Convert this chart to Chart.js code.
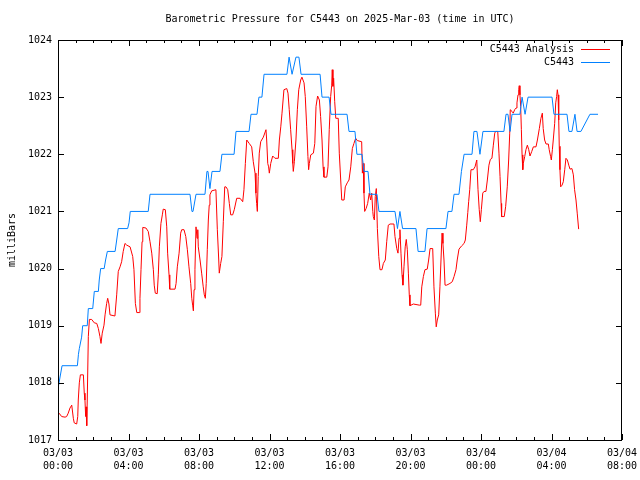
<!DOCTYPE html>
<html>
<head>
<meta charset="utf-8">
<script src="https://cdn.jsdelivr.net/npm/chart.js@4.4.1/dist/chart.umd.min.js"></script>
<style>
    html, body { margin: 0; padding: 0; background: #fff; }
    #wrap { width: 640px; height: 480px; }
</style>
</head>
<body>
<div id="wrap"><canvas id="pressureChart" width="640" height="480"></canvas></div>
<script>
// Hours since 03/03 00:00 UTC and pressure in mb
const analysisHours = [
    0.06, 0.21, 0.40, 0.49, 0.58, 0.68, 0.78, 0.87, 0.92, 1.06, 1.12, 1.15, 1.21, 1.27, 1.44, 1.49,
    1.53, 1.57, 1.59, 1.63, 1.66, 1.72, 1.78, 1.91, 2.06, 2.20, 2.29, 2.38, 2.44, 2.51, 2.61, 2.67,
    2.76, 2.82, 2.89, 2.95, 3.23, 3.33, 3.42, 3.52, 3.61, 3.70, 3.80, 3.90, 4.09, 4.24, 4.31, 4.39,
    4.47, 4.61, 4.65, 4.71, 4.77, 4.81, 4.99, 5.12, 5.22, 5.32, 5.41, 5.46, 5.52, 5.63, 5.69, 5.75,
    5.84, 5.92, 5.97, 6.09, 6.17, 6.22, 6.30, 6.34, 6.64, 6.70, 6.77, 6.87, 6.96, 7.02, 7.15, 7.25,
    7.34, 7.43, 7.53, 7.59, 7.64, 7.68, 7.72, 7.77, 7.83, 7.89, 7.93, 7.96, 8.06, 8.15, 8.24, 8.30,
    8.36, 8.41, 8.47, 8.53, 8.58, 8.62, 8.72, 8.96, 9.04, 9.12, 9.15, 9.23, 9.30, 9.38, 9.46, 9.53,
    9.63, 9.72, 9.80, 9.91, 10.00, 10.14, 10.33, 10.48, 10.55, 10.63, 10.71, 10.85, 10.99, 11.08, 11.18, 11.23,
    11.27, 11.31, 11.36, 11.42, 11.50, 11.65, 11.80, 11.84, 11.90, 11.95, 11.99, 12.07, 12.18, 12.31, 12.50, 12.56,
    12.64, 12.71, 12.82, 12.98, 13.05, 13.12, 13.20, 13.28, 13.32, 13.35, 13.41, 13.50, 13.58, 13.66, 13.77, 13.84,
    13.96, 14.03, 14.11, 14.18, 14.22, 14.26, 14.34, 14.49, 14.57, 14.64, 14.73, 14.83, 14.90, 14.98, 15.04, 15.09,
    15.25, 15.32, 15.39, 15.47, 15.53, 15.56, 15.60, 15.64, 15.70, 15.76, 15.90, 15.96, 16.04, 16.10, 16.23, 16.30,
    16.41, 16.51, 16.61, 16.70, 16.79, 16.89, 16.98, 17.23, 17.27, 17.32, 17.36, 17.40, 17.48, 17.57, 17.66, 17.74,
    17.80, 17.86, 17.89, 17.95, 18.00, 18.06, 18.12, 18.20, 18.27, 18.38, 18.46, 18.57, 18.65, 18.74, 18.84, 19.06,
    19.12, 19.22, 19.29, 19.35, 19.40, 19.46, 19.52, 19.57, 19.63, 19.70, 19.76, 19.82, 19.88, 19.93, 19.97, 20.16,
    20.50, 20.58, 20.64, 20.73, 20.82, 20.95, 21.03, 21.11, 21.26, 21.33, 21.41, 21.46, 21.52, 21.60, 21.67, 21.73,
    21.79, 21.84, 21.90, 21.96, 22.05, 22.24, 22.37, 22.47, 22.58, 22.65, 22.75, 22.91, 23.04, 23.11, 23.19, 23.25,
    23.30, 23.36, 23.43, 23.56, 23.66, 23.76, 23.83, 23.90, 23.96, 24.02, 24.10, 24.17, 24.28, 24.36, 24.45, 24.53,
    24.62, 24.70, 24.78, 24.83, 24.95, 25.02, 25.08, 25.14, 25.17, 25.32, 25.40, 25.49, 25.57, 25.63, 25.66, 25.76,
    25.83, 25.91, 25.99, 26.04, 26.10, 26.14, 26.17, 26.21, 26.25, 26.29, 26.33, 26.37, 26.40, 26.48, 26.55, 26.63,
    26.71, 26.78, 26.88, 26.97, 27.12, 27.20, 27.31, 27.40, 27.48, 27.53, 27.61, 27.69, 27.82, 27.87, 27.95, 27.99,
    28.05, 28.10, 28.18, 28.24, 28.29, 28.33, 28.37, 28.41, 28.44, 28.48, 28.52, 28.60, 28.67, 28.75, 28.82, 28.90,
    28.98, 29.05, 29.16, 29.24, 29.31, 29.39, 29.46, 29.54
];
const analysisValues = [
    1017.47, 1017.41, 1017.40, 1017.41, 1017.47, 1017.56, 1017.61, 1017.38, 1017.30, 1017.28, 1017.41, 1017.70, 1018.00, 1018.14, 1018.14, 1017.82,
    1017.70, 1017.41, 1017.58, 1017.25, 1017.70, 1018.81, 1019.11, 1019.11, 1019.05, 1019.04, 1018.95, 1018.81, 1018.69, 1018.87, 1019.01, 1019.19,
    1019.39, 1019.48, 1019.38, 1019.19, 1019.17, 1019.54, 1019.95, 1020.03, 1020.12, 1020.30, 1020.44, 1020.41, 1020.38, 1020.21, 1019.98, 1019.39,
    1019.23, 1019.23, 1019.48, 1019.98, 1020.47, 1020.72, 1020.71, 1020.65, 1020.47, 1020.27, 1019.98, 1019.71, 1019.57, 1019.56, 1019.89, 1020.38,
    1020.79, 1020.94, 1021.04, 1021.03, 1020.73, 1020.27, 1019.89, 1019.64, 1019.64, 1019.74, 1020.03, 1020.27, 1020.62, 1020.68, 1020.68, 1020.56,
    1020.33, 1020.03, 1019.74, 1019.48, 1019.36, 1019.26, 1019.63, 1019.98, 1020.73, 1020.53, 1020.68, 1020.38, 1020.15, 1019.92, 1019.68, 1019.54,
    1019.48, 1019.74, 1020.33, 1020.85, 1021.11, 1021.29, 1021.36, 1021.38, 1020.68, 1020.15, 1019.92, 1020.09, 1020.21, 1020.82, 1021.43, 1021.43,
    1021.38, 1021.14, 1020.94, 1020.94, 1021.03, 1021.23, 1021.23, 1021.17, 1021.38, 1021.84, 1022.25, 1022.19, 1022.13, 1021.87, 1021.67, 1021.32,
    1021.14, 1021.00, 1021.61, 1022.02, 1022.22, 1022.30, 1022.43, 1022.25, 1021.84, 1021.78, 1021.67, 1021.84, 1021.97, 1021.93, 1021.93, 1022.25,
    1022.48, 1022.72, 1023.13, 1023.15, 1023.07, 1022.78, 1022.43, 1022.08, 1021.84, 1021.70, 1021.87, 1022.25, 1022.78, 1023.13, 1023.30, 1023.35,
    1023.25, 1023.01, 1022.48, 1021.96, 1021.73, 1021.84, 1021.99, 1022.02, 1022.19, 1022.84, 1023.02, 1022.95, 1022.66, 1022.25, 1021.78, 1021.60,
    1021.60, 1021.78, 1022.43, 1023.01, 1023.21, 1023.48, 1023.19, 1023.33, 1022.92, 1022.63, 1022.63, 1022.02, 1021.55, 1021.20, 1021.20, 1021.43,
    1021.50, 1021.55, 1021.78, 1022.10, 1022.19, 1022.28, 1022.24, 1022.22, 1021.67, 1021.84, 1021.32, 1021.00, 1021.05, 1021.14, 1021.32, 1021.20,
    1021.32, 1021.00, 1020.91, 1020.85, 1021.26, 1021.40, 1020.70, 1020.21, 1019.98, 1019.98, 1020.09, 1020.15, 1020.47, 1020.76, 1020.78, 1020.78,
    1020.56, 1020.35, 1020.27, 1020.53, 1020.68, 1020.27, 1019.89, 1019.71, 1020.03, 1020.38, 1020.51, 1020.33, 1019.92, 1019.54, 1019.35, 1019.38,
    1019.36, 1019.36, 1019.68, 1019.86, 1019.98, 1019.99, 1020.15, 1020.35, 1020.35, 1019.68, 1019.22, 1018.98, 1019.10, 1019.19, 1019.68, 1020.15,
    1020.62, 1020.44, 1020.15, 1019.71, 1019.71, 1019.74, 1019.77, 1019.86, 1019.98, 1020.15, 1020.34, 1020.40, 1020.44, 1020.50, 1020.76, 1020.98,
    1021.17, 1021.38, 1021.73, 1021.73, 1021.78, 1021.90, 1021.38, 1021.03, 1020.82, 1021.03, 1021.32, 1021.35, 1021.35, 1021.55, 1021.81, 1021.91,
    1021.93, 1022.16, 1022.37, 1022.40, 1022.40, 1022.02, 1021.61, 1021.14, 1020.91, 1020.91, 1021.09, 1021.43, 1021.90, 1022.37, 1022.78, 1022.75,
    1022.72, 1022.78, 1022.81, 1022.90, 1023.04, 1023.13, 1023.20, 1023.04, 1022.84, 1022.43, 1021.99, 1021.73, 1021.84, 1021.96, 1022.08, 1022.16,
    1022.08, 1021.97, 1022.05, 1022.13, 1022.13, 1022.25, 1022.45, 1022.63, 1022.72, 1022.45, 1022.25, 1022.18, 1022.18, 1022.08, 1021.96, 1021.90,
    1022.08, 1022.25, 1022.54, 1022.90, 1023.01, 1023.13, 1023.04, 1022.60, 1022.14, 1021.73, 1021.43, 1021.46, 1021.52, 1021.73, 1021.93, 1021.90,
    1021.81, 1021.74, 1021.75, 1021.64, 1021.38, 1021.20, 1020.97, 1020.69
];

const stationHours = [
    0.00, 0.23, 1.10, 1.16, 1.21, 1.34, 1.40, 1.66, 1.72, 1.97, 2.06, 2.29, 2.34, 2.42, 2.62, 2.70,
    2.80, 3.24, 3.33, 3.42, 3.95, 4.03, 4.10, 5.12, 5.22, 7.49, 7.60, 7.66, 7.83, 8.34, 8.45, 8.51,
    8.62, 8.74, 9.19, 9.30, 9.99, 10.10, 10.84, 10.95, 11.29, 11.40, 11.57, 11.69, 12.99, 13.11, 13.16, 13.28,
    13.33, 13.50, 13.67, 13.79, 14.87, 14.98, 15.38, 15.49, 16.40, 16.51, 16.85, 16.96, 17.25, 17.36, 17.59, 17.70,
    18.10, 18.21, 19.12, 19.26, 19.40, 19.55, 20.31, 20.43, 20.82, 20.94, 22.01, 22.13, 22.35, 22.47, 22.75, 22.89,
    23.04, 23.49, 23.60, 23.77, 23.94, 24.11, 25.30, 25.42, 25.53, 25.65, 25.76, 26.21, 26.33, 26.38, 26.50, 26.67,
    28.03, 28.14, 28.88, 28.99, 29.16, 29.33, 29.45, 29.67, 30.18, 30.64
];
const stationValues = [
    1017.9, 1018.3, 1018.3, 1018.5, 1018.6, 1018.8, 1019.0, 1019.0, 1019.3, 1019.3, 1019.6, 1019.6, 1019.8, 1020.0, 1020.0, 1020.15,
    1020.3, 1020.3, 1020.5, 1020.7, 1020.7, 1020.8, 1021.0, 1021.0, 1021.3, 1021.3, 1021.0, 1021.0, 1021.3, 1021.3, 1021.7, 1021.7,
    1021.4, 1021.7, 1021.7, 1022.0, 1022.0, 1022.4, 1022.4, 1022.7, 1022.7, 1023.0, 1023.0, 1023.4, 1023.4, 1023.7, 1023.7, 1023.4,
    1023.4, 1023.7, 1023.7, 1023.4, 1023.4, 1023.0, 1023.0, 1022.7, 1022.7, 1022.4, 1022.4, 1022.0, 1022.0, 1021.7, 1021.7, 1021.3,
    1021.3, 1021.0, 1021.0, 1020.7, 1021.0, 1020.7, 1020.7, 1020.3, 1020.3, 1020.7, 1020.7, 1021.0, 1021.0, 1021.3, 1021.3, 1021.7,
    1022.0, 1022.0, 1022.4, 1022.4, 1022.0, 1022.4, 1022.4, 1022.7, 1022.7, 1022.4, 1022.7, 1022.7, 1023.0, 1023.0, 1022.7, 1023.0,
    1023.0, 1022.7, 1022.7, 1022.4, 1022.4, 1022.7, 1022.4, 1022.4, 1022.7, 1022.7
];

const seriesLabels = ['C5443 Analysis', 'C5443'];
const seriesColors = ['#ff0000', '#0080ff'];
const xTickHours = [0, 4, 8, 12, 16, 20, 24, 28, 32];
const yTickValues = [1017, 1018, 1019, 1020, 1021, 1022, 1023, 1024];
const chartTitle = 'Barometric Pressure for C5443 on 2025-Mar-03 (time in UTC)';
const yTitle = 'milliBars';

const FONT = 'DejaVu Sans Mono';

function toPoints(hours, values) {
    return hours.map((h, i) => ({ x: h, y: values[i] }));
}

function pad2(n) {
    return String(n).padStart(2, '0');
}

// Tick label as two lines: date, then time
function timeLabel(h) {
    const day = 3 + Math.floor(h / 24);
    return ['03/' + pad2(day), pad2(h % 24) + ':00'];
}

// gnuplot-like frame, inward ticks, title and legend inside the plot
const gnuplotDecor = {
    id: 'gnuplotDecor',
    afterDraw(chart) {
        const ctx = chart.ctx;
        const a = chart.chartArea;
        const xs = chart.scales.x;
        const ys = chart.scales.y;

        ctx.save();
        ctx.strokeStyle = '#000';
        ctx.lineWidth = 1;
        ctx.strokeRect(a.left + 0.5, a.top + 0.5, a.right - a.left - 1, a.bottom - a.top);

        ctx.beginPath();
        yTickValues.forEach(v => {
            const py = Math.round(ys.getPixelForValue(v)) + 0.5;
            ctx.moveTo(a.left, py); ctx.lineTo(a.left + 6, py);
            ctx.moveTo(a.right - 6, py); ctx.lineTo(a.right, py);
        });
        for (let h = xs.min; h <= xs.max; h++) {
            const px = Math.round(xs.getPixelForValue(h)) + 0.5;
            const len = h % 4 === 0 ? 6 : 3;
            ctx.moveTo(px, a.bottom); ctx.lineTo(px, a.bottom - len);
            ctx.moveTo(px, a.top); ctx.lineTo(px, a.top + len);
        }
        ctx.stroke();

        ctx.fillStyle = '#000';
        ctx.font = '10px "' + FONT + '"';
        ctx.textBaseline = 'middle';
        ctx.textAlign = 'center';
        ctx.fillText(chartTitle, (a.left + a.right) / 2, 19);

        // legend: text right-aligned, sample line to its right
        ctx.textAlign = 'right';
        chart.data.datasets.forEach((ds, i) => {
            const ly = 49 + i * 13;
            ctx.fillStyle = '#000';
            ctx.fillText(ds.label, a.right - 48, ly);
            ctx.strokeStyle = ds.borderColor;
            ctx.beginPath();
            ctx.moveTo(a.right - 41, ly + 0.5);
            ctx.lineTo(a.right - 12, ly + 0.5);
            ctx.stroke();
        });
        ctx.restore();
    }
};

new Chart(document.getElementById('pressureChart'), {
    type: 'line',
    data: {
        datasets: [{
            label: seriesLabels[0],
            data: toPoints(analysisHours, analysisValues),
            borderColor: seriesColors[0],
            borderWidth: 1,
            pointRadius: 0,
            tension: 0,
            order: 1
        }, {
            label: seriesLabels[1],
            data: toPoints(stationHours, stationValues),
            borderColor: seriesColors[1],
            borderWidth: 1,
            pointRadius: 0,
            tension: 0,
            order: 0
        }]
    },
    options: {
        responsive: false,
        animation: false,
        layout: {
            padding: { top: 40, right: 18, left: 0, bottom: 0 }
        },
        plugins: {
            legend: { display: false },
            title: { display: false },
            tooltip: { enabled: false }
        },
        scales: {
            x: {
                type: 'linear',
                min: 0,
                max: 32,
                afterFit: s => {
                    s.height = 40;
                    // let layout.padding decide the side margins
                    s.paddingLeft = 0;
                    s.paddingRight = 0;
                },
                afterBuildTicks: s => { s.ticks = xTickHours.map(v => ({ value: v })); },
                grid: { display: false, drawTicks: false },
                border: { display: false },
                ticks: {
                    autoSkip: false,
                    maxRotation: 0,
                    padding: 7,
                    color: '#000',
                    font: { family: FONT, size: 10, lineHeight: 1.3 },
                    callback: v => timeLabel(v)
                }
            },
            y: {
                min: 1017,
                max: 1024,
                afterFit: s => {
                    s.width = 58;
                    s.paddingTop = 0;
                    s.paddingBottom = 0;
                },
                afterBuildTicks: s => { s.ticks = yTickValues.map(v => ({ value: v })); },
                grid: { display: false, drawTicks: false },
                border: { display: false },
                title: {
                    display: true,
                    text: yTitle,
                    color: '#000',
                    font: { family: FONT, size: 10 },
                    padding: { top: 6, bottom: 0 }
                },
                ticks: {
                    padding: 6,
                    color: '#000',
                    font: { family: FONT, size: 10 },
                    callback: v => String(v)
                }
            }
        }
    },
    plugins: [gnuplotDecor]
});
</script>
</body>
</html>
